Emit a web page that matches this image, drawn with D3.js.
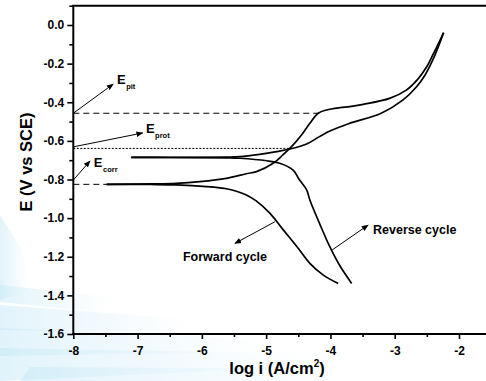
<!DOCTYPE html>
<html>
<head>
<meta charset="utf-8">
<script src="https://cdn.jsdelivr.net/npm/d3@7/dist/d3.min.js"></script>
<style>
  html, body { margin: 0; padding: 0; background: #fff; }
  svg { display: block; }
  text { font-family: "Liberation Sans", Arial, sans-serif; font-weight: bold; fill: #000; }
</style>
</head>
<body>
<svg id="chart" width="486" height="381"></svg>
<script>
// ---------- data ----------
const xTicks = [-8, -7, -6, -5, -4, -3, -2];
const xTickLabels = ["-8", "-7", "-6", "-5", "-4", "-3", "-2"];
const xMinorTicks = [-7.5, -6.5, -5.5, -4.5, -3.5, -2.5, -1.5];
const yTicks = [0, -0.2, -0.4, -0.6, -0.8, -1.0, -1.2, -1.4, -1.6];
const yTickLabels = ["0.0", "-0.2", "-0.4", "-0.6", "-0.8", "-1.0", "-1.2", "-1.4", "-1.6"];
const yMinorTicks = [0.1, -0.1, -0.3, -0.5, -0.7, -0.9, -1.1, -1.3, -1.5];

// forward cycle (log i, E)
const forwardCathodic = [[-7.48,-0.825],[-6.8,-0.826],[-6.4,-0.828],[-5.93,-0.837],[-5.6,-0.849],[-5.45,-0.862],[-5.3,-0.881],[-5.15,-0.912],[-4.94,-0.975],[-4.73,-1.062],[-4.52,-1.148],[-4.32,-1.234],[-4.11,-1.295],[-3.88,-1.338]];
const forwardAnodic = [[-7.48,-0.825],[-6.8,-0.823],[-6.4,-0.820],[-6.03,-0.811],[-5.62,-0.794],[-5.31,-0.770],[-5.15,-0.759],[-4.89,-0.716],[-4.74,-0.673],[-4.58,-0.621],[-4.45,-0.570],[-4.32,-0.509],[-4.19,-0.457],[-4.06,-0.440],[-3.85,-0.428],[-3.70,-0.423],[-3.49,-0.411],[-3.08,-0.380],[-2.82,-0.337],[-2.64,-0.280],[-2.50,-0.215],[-2.40,-0.150],[-2.31,-0.090],[-2.24,-0.040]];
// reverse cycle
const reverseAnodic = [[-7.10,-0.685],[-6.5,-0.685],[-6.0,-0.685],[-5.62,-0.684],[-5.41,-0.682],[-5.10,-0.670],[-4.84,-0.656],[-4.63,-0.642],[-4.37,-0.616],[-4.17,-0.578],[-4.0,-0.548],[-3.72,-0.511],[-3.21,-0.457],[-2.87,-0.388],[-2.66,-0.320],[-2.53,-0.260],[-2.42,-0.190],[-2.33,-0.120],[-2.24,-0.040]];
const reverseCathodic = [[-7.10,-0.685],[-6.5,-0.686],[-6.0,-0.687],[-5.62,-0.688],[-5.41,-0.690],[-4.99,-0.703],[-4.79,-0.716],[-4.58,-0.751],[-4.48,-0.803],[-4.37,-0.854],[-4.32,-0.906],[-4.17,-1.027],[-4.01,-1.148],[-3.86,-1.243],[-3.67,-1.338]];

const Epit = -0.457, Eprot = -0.639, Ecorr = -0.825;

// ---------- scales ----------
const svg = d3.select("#chart");
const x = d3.scaleLinear().domain([-8, -2]).range([73.3, 459]);
const y = d3.scaleLinear().domain([-1.6, 0]).range([334, 25]);
const xMax = -1.58, yMax = 0.1;

// ---------- watermark (decorative pale blue streaks) ----------
const defs = svg.append("defs");
const grad = defs.append("linearGradient").attr("id", "wm").attr("x1", "0").attr("x2", "1").attr("y1", "0").attr("y2", "0");
grad.append("stop").attr("offset", "0").attr("stop-color", "#c4e8f6").attr("stop-opacity", 0.85);
grad.append("stop").attr("offset", "0.6").attr("stop-color", "#dcf1fa").attr("stop-opacity", 0.5);
grad.append("stop").attr("offset", "1").attr("stop-color", "#eef8fd").attr("stop-opacity", 0);
const streaks = [
  [0, 285, 120, 298, 100, 312, 0, 302],
  [0, 305, 200, 320, 170, 333, 0, 330],
  [0, 328, 280, 340, 250, 352, 0, 356],
  [0, 348, 330, 354, 300, 367, 0, 381],
  [30, 367, 360, 369, 330, 381, 20, 381],
  [0, 215, 22, 250, 30, 290, 0, 300]
];
streaks.forEach(s => {
  svg.append("path")
    .attr("d", `M${s[0]},${s[1]} L${s[2]},${s[3]} L${s[4]},${s[5]} L${s[6]},${s[7]} Z`)
    .attr("fill", "url(#wm)").attr("opacity", 0.6);
});

// arrow marker
defs.append("marker").attr("id", "arr").attr("viewBox", "0 0 10 10")
  .attr("refX", 9).attr("refY", 5).attr("markerWidth", 7).attr("markerHeight", 7)
  .attr("orient", "auto").attr("markerUnits", "userSpaceOnUse")
  .append("path").attr("d", "M0,1 L10,5 L0,9 Z").attr("fill", "#000");

// ---------- axes ----------
const gx = svg.append("g").attr("transform", `translate(0,${y(-1.6)})`)
  .call(d3.axisBottom(x).tickValues(xTicks).tickSize(5).tickFormat((d, i) => xTickLabels[i]));
const gxm = svg.append("g").attr("transform", `translate(0,${y(-1.6)})`)
  .call(d3.axisBottom(x).tickValues(xMinorTicks).tickSize(3).tickFormat(""));
const gy = svg.append("g").attr("transform", `translate(${x(-8)},0)`)
  .call(d3.axisLeft(y).tickValues(yTicks).tickSize(6).tickFormat((d, i) => yTickLabels[i]));
const gym = svg.append("g").attr("transform", `translate(${x(-8)},0)`)
  .call(d3.axisLeft(y).tickValues(yMinorTicks).tickSize(4).tickFormat(""));
[gx, gxm, gy, gym].forEach(g => {
  g.select(".domain").remove();
  g.selectAll(".tick line").attr("stroke", "#000").attr("stroke-width", 1.6);
});
gx.selectAll(".tick text").attr("font-size", 12).attr("dy", 0).attr("y", 21)
  .style("font-family", "'Liberation Sans', Arial, sans-serif").style("font-weight", "bold");
gy.selectAll(".tick text").attr("font-size", 12).attr("x", -9)
  .style("font-family", "'Liberation Sans', Arial, sans-serif").style("font-weight", "bold");

// frame lines: left, bottom, top
svg.append("line").attr("x1", x(-8)).attr("x2", x(-8)).attr("y1", y(yMax)).attr("y2", y(-1.6) + 1)
  .attr("stroke", "#000").attr("stroke-width", 2);
svg.append("line").attr("x1", x(-8) - 1).attr("x2", x(xMax)).attr("y1", y(-1.6)).attr("y2", y(-1.6))
  .attr("stroke", "#000").attr("stroke-width", 2);
svg.append("line").attr("x1", x(-8) - 1).attr("x2", x(xMax)).attr("y1", y(yMax)).attr("y2", y(yMax))
  .attr("stroke", "#000").attr("stroke-width", 2);

// axis titles
const xt = svg.append("text").attr("x", 277).attr("y", 374).attr("text-anchor", "middle").attr("font-size", 16.5);
xt.append("tspan").text("log i (A/cm");
xt.append("tspan").attr("font-size", 10).attr("dy", -7).text("2");
xt.append("tspan").attr("dy", 7).text(")");
svg.append("text").attr("transform", `translate(32,162) rotate(-90)`).attr("text-anchor", "middle")
  .attr("font-size", 16.5).text("E (V vs SCE)");

// ---------- reference lines ----------
svg.append("line").attr("x1", x(-8)).attr("x2", x(-4.19)).attr("y1", y(Epit)).attr("y2", y(Epit))
  .attr("stroke", "#000").attr("stroke-width", 1).attr("stroke-dasharray", "6,4");
svg.append("line").attr("x1", x(-8)).attr("x2", x(-4.63)).attr("y1", y(Eprot)).attr("y2", y(Eprot))
  .attr("stroke", "#000").attr("stroke-width", 1).attr("stroke-dasharray", "2,1.5");
svg.append("line").attr("x1", x(-8)).attr("x2", x(-7.45)).attr("y1", y(Ecorr)).attr("y2", y(Ecorr))
  .attr("stroke", "#000").attr("stroke-width", 1).attr("stroke-dasharray", "6,4");

// ---------- curves ----------
const line = d3.line().x(d => x(d[0])).y(d => y(d[1])).curve(d3.curveCatmullRom.alpha(0.5));
[forwardCathodic, forwardAnodic, reverseAnodic, reverseCathodic].forEach(s => {
  svg.append("path").datum(s).attr("d", line).attr("fill", "none")
    .attr("stroke", "#000").attr("stroke-width", 1.7).attr("stroke-linejoin", "round");
});

// ---------- annotations ----------
function arrow(a, b) {
  svg.append("line").attr("x1", x(a[0])).attr("y1", y(a[1])).attr("x2", x(b[0])).attr("y2", y(b[1]))
    .attr("stroke", "#000").attr("stroke-width", 1).attr("marker-end", "url(#arr)");
}
function eLabel(px, py, sub) {
  const t = svg.append("text").attr("x", x(px)).attr("y", y(py)).attr("font-size", 13).text("E");
  t.append("tspan").attr("font-size", 7.5).attr("dy", 5).attr("dx", 0.5).text(sub);
}
arrow([-8, Epit], [-7.38, -0.306]);
eLabel(-7.32, -0.303, "pit");
arrow([-8, Eprot + 0.008], [-6.92, -0.559]);
eLabel(-6.87, -0.559, "prot");
arrow([-8, -0.803], [-7.74, -0.704]);
eLabel(-7.68, -0.735, "corr");

arrow([-4.865, -1.019], [-5.487, -1.131]);
svg.append("text").attr("x", 225).attr("y", 261).attr("text-anchor", "middle").attr("font-size", 12.5).text("Forward cycle");
arrow([-3.974, -1.165], [-3.414, -1.036]);
svg.append("text").attr("x", 373).attr("y", 234).attr("font-size", 12.5).text("Reverse cycle");
</script>
</body>
</html>
